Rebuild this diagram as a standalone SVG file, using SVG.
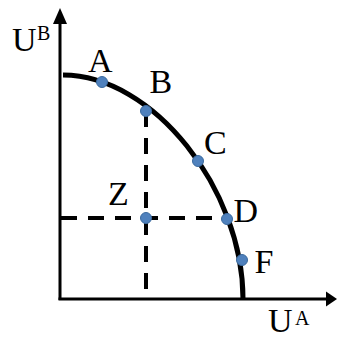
<svg xmlns="http://www.w3.org/2000/svg" width="337" height="338" viewBox="0 0 337 338">
<style>
.lbl{font-family:"Liberation Serif","Times New Roman",serif;font-size:34px;fill:#000}
.sup{font-family:"Liberation Serif","Times New Roman",serif;font-size:20px;fill:#000}
.axis{stroke:#000;stroke-width:3;fill:none}
.dash{stroke:#000;stroke-width:4;fill:none;stroke-dasharray:16 11}
.dot{fill:#4F81BD;stroke:#3A6A9E;stroke-width:1}
</style>
<rect width="337" height="338" fill="#fff"/>
<g id="connectors">
<line class="axis" x1="60" y1="300" x2="60" y2="22"/>
<polygon points="60,8 53,24 67,24" fill="#000"/>
<line class="axis" x1="58.5" y1="299" x2="327" y2="299"/>
<polygon points="337,299 326,291.5 326,306.5" fill="#000"/>
<line class="dash" x1="146" y1="111" x2="146" y2="299"/>
<line class="dash" x1="61" y1="218" x2="227" y2="218"/>
<path d="M63,75 C153,75 243,189 243,299" fill="none" stroke="#000" stroke-width="5"/>
</g>
<g id="axis-labels">
<text class="lbl" x="12" y="51">U</text><text class="sup" x="37" y="40">B</text>
<text class="lbl" x="268" y="332">U</text><text class="sup" x="295" y="325">A</text>
</g>
<g id="node-A"><circle class="dot" cx="102" cy="82" r="5.5"/><text class="lbl" x="88" y="72">A</text></g>
<g id="node-B"><circle class="dot" cx="146" cy="111" r="5.5"/><text class="lbl" x="149.5" y="93">B</text></g>
<g id="node-C"><circle class="dot" cx="198" cy="161" r="5.5"/><text class="lbl" x="204" y="154">C</text></g>
<g id="node-Z"><circle class="dot" cx="146" cy="218" r="5.5"/><text class="lbl" x="108" y="205">Z</text></g>
<g id="node-D"><circle class="dot" cx="227" cy="219" r="5.5"/><text class="lbl" x="233.5" y="222">D</text></g>
<g id="node-F"><circle class="dot" cx="242" cy="260" r="5.5"/><text class="lbl" x="254.5" y="273">F</text></g>
</svg>
